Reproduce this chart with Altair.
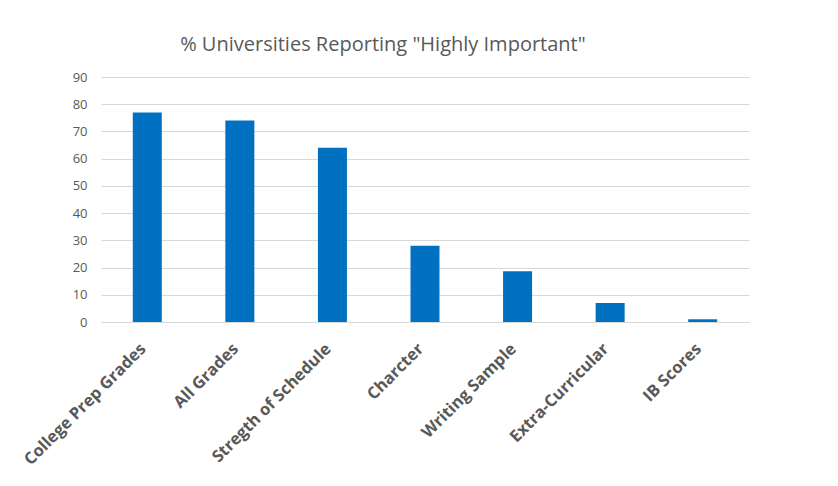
import altair as alt
import pandas as pd

categories = ["College Prep Grades", "All Grades", "Stregth of Schedule", "Charcter",
              "Writing Sample", "Extra-Curricular", "IB Scores"]
values = [77, 74, 64, 28, 18.6, 7, 1]

df = pd.DataFrame({"category": categories, "value": values})

chart = alt.Chart(df).mark_bar(size=29, color="#0070C0").encode(
    x=alt.X("category:N", sort=categories, title=None,
            scale=alt.Scale(paddingInner=0, paddingOuter=0),
            axis=alt.Axis(labelAngle=-45, labelAlign="right", labelBaseline="middle",
                          labelFont="Open Sans", labelFontWeight="bold", labelFontSize=16.5,
                          labelColor="#595959", labelPadding=24, labelOffset=-4, ticks=False,
                          domainColor="#d9d9d9", domainWidth=1, grid=False)),
    y=alt.Y("value:Q", title=None,
            scale=alt.Scale(domain=[0, 90], nice=False),
            axis=alt.Axis(values=list(range(0, 100, 10)), ticks=False, domain=False,
                          labelFont="Open Sans", labelFontSize=13, labelColor="#595959",
                          labelPadding=14, gridColor="#d9d9d9", gridWidth=1.2)),
).properties(
    width=648, height=245,
    title=alt.TitleParams('% Universities Reporting "Highly Important"', anchor="start",
                          dx=159, offset=16, font="Open Sans", fontSize=20,
                          fontWeight="normal", color="#595959"),
    autosize=alt.AutoSizeParams(type="none"),
    padding={"left": 93, "top": 69, "right": 81, "bottom": 156},
).configure_view(stroke=None)

chart.save("out.html", embed_options={"renderer": "svg", "actions": False})
